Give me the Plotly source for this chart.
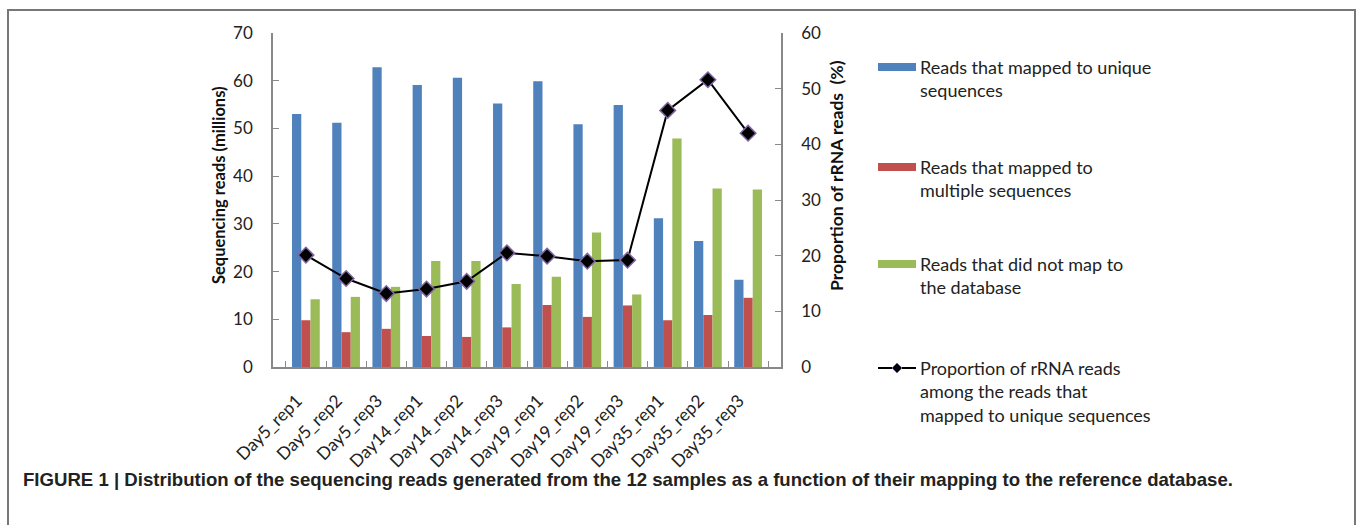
import plotly.graph_objects as go

samples = ["Day5_rep1", "Day5_rep2", "Day5_rep3", "Day14_rep1", "Day14_rep2", "Day14_rep3",
           "Day19_rep1", "Day19_rep2", "Day19_rep3", "Day35_rep1", "Day35_rep2", "Day35_rep3"]
unique_reads = [53.0, 51.2, 62.8, 59.1, 60.6, 55.2, 59.9, 50.9, 54.9, 31.2, 26.4, 18.3]
multiple_reads = [9.8, 7.3, 8.0, 6.5, 6.3, 8.3, 13.0, 10.5, 12.9, 9.8, 10.9, 14.5]
unmapped_reads = [14.2, 14.7, 16.8, 22.2, 22.2, 17.4, 18.9, 28.2, 15.2, 47.9, 37.4, 37.2]
rrna_pct = [20.1, 15.9, 13.2, 14.0, 15.4, 20.5, 19.9, 19.0, 19.2, 46.1, 51.6, 42.0]

legend_names = ["Reads that mapped to unique<br>sequences",
                "Reads that mapped to<br>multiple sequences",
                "Reads that did not map to<br>the database",
                "Proportion of rRNA reads<br>among the reads that<br>mapped to unique sequences"]
colors = ["#4F81BD", "#C0504D", "#9BBB59"]

W, H = 1357, 525
L, R, T, B = 273, 781, 33, 367
def px(x):
    return (x - L) / (R - L)
def py(y):
    return (B - y) / (B - T)

FAM = "Lato, Carlito, Open Sans, sans-serif"
tick_font = dict(family=FAM, size=17, color="#222")
xtick_font = dict(family=FAM, size=17.5, color="#222")
leg_font = dict(family=FAM, size=18, color="#222")

fig = go.Figure()
for vals, c, n in zip([unique_reads, multiple_reads, unmapped_reads], colors, legend_names[:3]):
    fig.add_trace(go.Bar(x=samples, y=vals, marker=dict(color=c, line=dict(width=0)),
                         name=n, showlegend=False))
fig.add_trace(go.Scatter(x=samples, y=rrna_pct, yaxis="y2", mode="lines+markers",
                         line=dict(color="black", width=2),
                         marker=dict(symbol="diamond", size=12, color="black",
                                     line=dict(color="#8064A2", width=1.5)),
                         name=legend_names[3], showlegend=False))

shapes = []
annotations = []
# outer frame
shapes.append(dict(type="rect", xref="paper", yref="paper",
                   x0=px(8), x1=px(1355), y0=py(540), y1=py(10),
                   line=dict(color="#777", width=2), fillcolor="rgba(0,0,0,0)", layer="below"))

# manual legend
leg_y = [67, 167, 264]
for yy, c, n in zip(leg_y, colors, legend_names[:3]):
    shapes.append(dict(type="rect", xref="paper", yref="paper",
                       x0=px(878), x1=px(916), y0=py(yy + 4), y1=py(yy - 4),
                       fillcolor=c, line=dict(width=0)))
    annotations.append(dict(xref="paper", yref="paper", x=px(918), y=py(yy - 13),
                            xanchor="left", yanchor="top", align="left", showarrow=False,
                            text=n, font=leg_font))
ly = 368
shapes.append(dict(type="line", xref="paper", yref="paper", x0=px(878), x1=px(916),
                   y0=py(ly), y1=py(ly), line=dict(color="black", width=2)))
dx, dy = 5 / (R - L), 5 / (B - T)
cx, cy = px(897), py(ly)
shapes.append(dict(type="path", xref="paper", yref="paper",
                   path=f"M {cx-dx},{cy} L {cx},{cy+dy} L {cx+dx},{cy} L {cx},{cy-dy} Z",
                   fillcolor="black", line=dict(color="#8064A2", width=1)))
annotations.append(dict(xref="paper", yref="paper", x=px(918), y=py(ly - 13),
                        xanchor="left", yanchor="top", align="left", showarrow=False,
                        text=legend_names[3], font=leg_font))

# axis titles
annotations.append(dict(xref="paper", yref="paper", x=px(219), y=py(185), textangle=-90,
                        xanchor="center", yanchor="middle",
                        showarrow=False, text="<b>Sequencing reads (millions)</b>",
                        font=dict(family=FAM, size=16.5, color="#111")))
annotations.append(dict(xref="paper", yref="paper", x=px(836), y=py(176), textangle=-90,
                        xanchor="center", yanchor="middle",
                        showarrow=False, text="<b>Proportion of rRNA reads  (%)</b>",
                        font=dict(family=FAM, size=17.5, color="#111")))
# caption
annotations.append(dict(xref="paper", yref="paper", x=px(21), y=py(479), xanchor="left",
                        yanchor="middle", showarrow=False,
                        text="<b>FIGURE 1 | Distribution of the sequencing reads generated from the 12 samples as a function of their mapping to the reference database.</b>",
                        font=dict(family="Liberation Sans Narrow, Arial Narrow, Liberation Sans, sans-serif",
                                  size=18.6, color="#222")))

axis_common = dict(ticks="inside", ticklen=6, tickcolor="#888", showline=True,
                   linecolor="#888", linewidth=1.5, showgrid=False, zeroline=False)

fig.update_layout(
    width=W, height=H,
    margin=dict(l=L, r=W - R, t=T, b=H - B),
    paper_bgcolor="white", plot_bgcolor="white",
    barmode="group", bargap=0.31, bargroupgap=0,
    showlegend=False,
    xaxis=dict(type="category", tickangle=-45, tickfont=xtick_font, tickson="boundaries",
               ticklabelstandoff=15, ticklabelshift=-9, **axis_common),
    yaxis=dict(range=[0, 70], dtick=10, tickfont=tick_font, ticklabelstandoff=15, **axis_common),
    yaxis2=dict(range=[0, 60], dtick=10, overlaying="y", side="right", tickfont=tick_font,
                ticklabelstandoff=15, **axis_common),
    shapes=shapes, annotations=annotations,
)

fig.write_html("out.html", config={"displayModeBar": False},
               post_script="document.body.style.margin='0';document.body.style.overflow='hidden';")
